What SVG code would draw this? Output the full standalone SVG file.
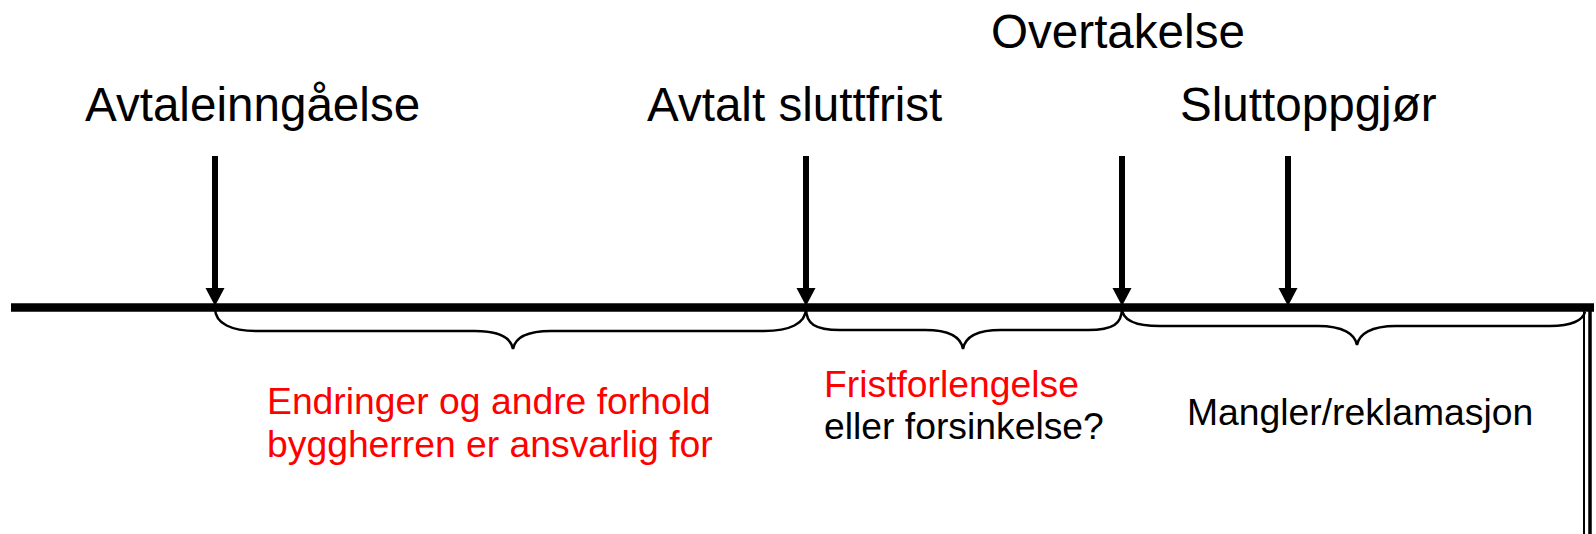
<svg xmlns="http://www.w3.org/2000/svg" width="1596" height="534" viewBox="0 0 1596 534">
<style>
.lbl{font-family:"Liberation Sans",Arial,sans-serif;font-size:47.6px;fill:#000}
.sub{font-family:"Liberation Sans",Arial,sans-serif;font-size:37.3px}
.red{fill:#ff0000}
.blk{fill:#000}
.shaft{stroke:#000;stroke-width:6;fill:none}
.head{fill:#000}
.brace{stroke:#000;stroke-width:2.5;fill:none}
</style>
<rect width="1596" height="534" fill="#fff"/>
<g id="connectors">
<line x1="11" y1="307.5" x2="1594" y2="307.5" stroke="#000" stroke-width="8.5"/>
<line x1="1584" y1="311" x2="1584" y2="534" stroke="#000" stroke-width="2"/>
<line x1="1590" y1="311" x2="1590" y2="534" stroke="#000" stroke-width="3.5"/>
<g id="arrow1"><line class="shaft" x1="215" y1="156" x2="215" y2="291"/><polygon class="head" points="205.5,288 224.5,288 215,306"/></g>
<g id="arrow2"><line class="shaft" x1="806" y1="156" x2="806" y2="291"/><polygon class="head" points="796.5,288 815.5,288 806,306"/></g>
<g id="arrow3"><line class="shaft" x1="1122" y1="156" x2="1122" y2="291"/><polygon class="head" points="1112.5,288 1131.5,288 1122,306"/></g>
<g id="arrow4"><line class="shaft" x1="1288" y1="156" x2="1288" y2="291"/><polygon class="head" points="1278.5,288 1297.5,288 1288,306"/></g>
<path id="brace1" class="brace" d="M215,308 C215,324 232,331 257,331 L475,331 C500,331 511,338 513,349 C515,338 526,331 551,331 L764,331 C789,331 806,324 806,308"/>
<path id="brace2" class="brace" d="M806,308 C806,324 815,330 840,330 L925,330 C950,330 961,337 963,349 C965,337 976,330 1001,330 L1088,330 C1113,330 1122,324 1122,308"/>
<path id="brace3" class="brace" d="M1122,308 C1122,320 1135,326 1160,326 L1318,326 C1343,326 1355,334 1357,345 C1359,334 1371,326 1396,326 L1550,326 C1572,326 1583,320 1585,312"/>
</g>
<g id="node-avtaleinngaelse"><text class="lbl" x="85" y="121">Avtaleinngåelse</text></g>
<g id="node-avtalt-sluttfrist"><text class="lbl" x="647" y="121">Avtalt sluttfrist</text></g>
<g id="node-overtakelse"><text class="lbl" x="991" y="48">Overtakelse</text></g>
<g id="node-sluttoppgjor"><text class="lbl" x="1180" y="121">Sluttoppgjør</text></g>
<g id="label-endringer"><text class="sub red" x="267" y="414">Endringer og andre forhold</text><text class="sub red" x="267" y="457">byggherren er ansvarlig for</text></g>
<g id="label-frist"><text class="sub red" x="824" y="397">Fristforlengelse</text><text class="sub blk" x="824" y="439">eller forsinkelse?</text></g>
<g id="label-mangler"><text class="sub blk" x="1187" y="425">Mangler/reklamasjon</text></g>
</svg>
